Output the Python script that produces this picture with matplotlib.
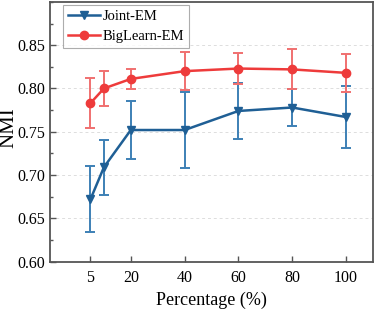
import matplotlib
matplotlib.use("Agg")
import matplotlib.pyplot as plt
from matplotlib.ticker import MultipleLocator
from matplotlib.lines import Line2D

percent = [5, 10, 20, 40, 60, 80, 100]
xticks = [5, 20, 40, 60, 80, 100]

joint_nmi = [0.672, 0.709, 0.752, 0.752, 0.774, 0.778, 0.767]
joint_err = [0.038, 0.032, 0.034, 0.044, 0.032, 0.021, 0.036]
big_nmi = [0.783, 0.800, 0.811, 0.820, 0.823, 0.822, 0.818]
big_err = [0.029, 0.020, 0.012, 0.022, 0.018, 0.023, 0.022]

plt.rcParams['font.family'] = ['Liberation Serif', 'DejaVu Serif']

fig = plt.figure(figsize=(3.74, 3.10), dpi=100)
ax = fig.add_axes([0.134, 0.156, 0.863, 0.838])

blue = '#1f5f95'
blue_e = '#3d80b5'
red = '#ee3b3b'
red_e = '#f07070'

ax.errorbar(percent, joint_nmi, yerr=joint_err, color=blue, ecolor=blue_e,
            marker='v', markersize=6, linewidth=1.8, elinewidth=1.4, capsize=3.5,
            capthick=1.4, zorder=3)
ax.errorbar(percent, big_nmi, yerr=big_err, color=red, ecolor=red_e,
            marker='o', markersize=6, linewidth=1.8, elinewidth=1.4, capsize=3.5,
            capthick=1.4, zorder=3)

ax.set_xlim(-10, 110)
ax.set_ylim(0.60, 0.90)
ax.set_xticks(xticks)
ax.set_yticks([0.60, 0.65, 0.70, 0.75, 0.80, 0.85])
ax.yaxis.set_minor_locator(MultipleLocator(0.025))
ax.tick_params(axis='both', which='both', direction='in', colors='#555555',
               labelcolor='black', labelsize=11.5, width=1)
ax.tick_params(axis='both', which='major', length=4)
ax.tick_params(axis='y', which='minor', length=2.5)
ax.tick_params(axis='x', pad=6)
ax.yaxis.grid(True, linestyle=(0, (3, 3)), color='#dddddd', linewidth=0.7)
ax.set_axisbelow(True)
for s in ax.spines.values():
    s.set_color('#555555')
    s.set_linewidth(1.3)

ax.set_xlabel('Percentage (%)', fontsize=13)
fig.text(0.024, 0.589, 'NMI', rotation=90, ha='center', va='center', fontsize=15)

handles = [
    Line2D([], [], color=blue, marker='v', markersize=6, linewidth=1.8),
    Line2D([], [], color=red, marker='o', markersize=6, linewidth=1.8),
]
leg = ax.legend(handles, ['Joint-EM', 'BigLearn-EM'], loc='upper left',
                fontsize=10.5, frameon=True, fancybox=False,
                edgecolor='#999999', borderpad=0.35, handlelength=2.2,
                handletextpad=0.2, labelspacing=0.45, borderaxespad=0.2,
                bbox_to_anchor=(0.03, 1.0))
leg.get_frame().set_linewidth(0.8)

fig.savefig('out.png', dpi=100)
